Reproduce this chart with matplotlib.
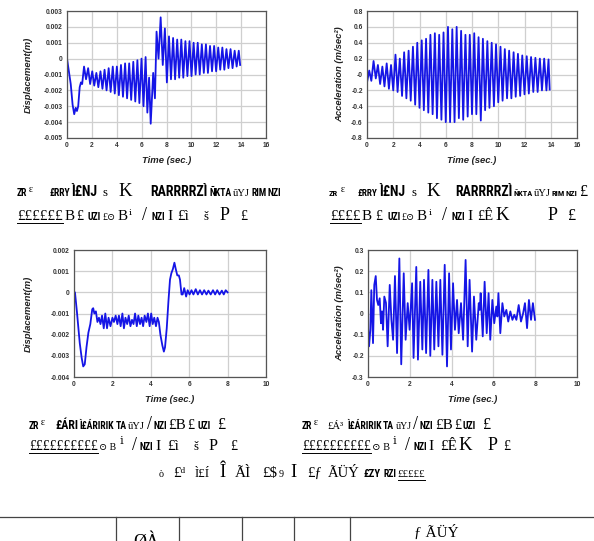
import matplotlib
matplotlib.use('Agg')
import matplotlib.pyplot as plt
import numpy as np
from matplotlib.lines import Line2D
from matplotlib.ticker import FuncFormatter
from matplotlib import font_manager

# ---------------- data ----------------
# (a) displacement, 14 s record
disp1_t = [0.0, 0.15, 0.3, 0.45, 0.58, 0.7, 0.8, 0.9, 1.02, 1.12, 1.22, 1.37, 1.53, 1.7, 1.86,
           2.03, 2.19, 2.36, 2.52, 2.69, 2.85, 3.02, 3.18, 3.35, 3.51, 3.68, 3.84, 4.01, 4.17,
           4.34, 4.5, 4.67, 4.83, 5.0, 5.16, 5.33, 5.49, 5.66, 5.82, 5.99, 6.15, 6.32, 6.46,
           6.6, 6.73, 6.93, 7.07, 7.2, 7.36, 7.53, 7.7, 7.87, 8.03, 8.2, 8.36, 8.53, 8.69,
           8.86, 9.02, 9.19, 9.35, 9.52, 9.68, 9.85, 10.01, 10.18, 10.34, 10.51, 10.67,
           10.84, 11.0, 11.17, 11.33, 11.5, 11.66, 11.83, 11.99, 12.16, 12.32, 12.49, 12.65,
           12.82, 12.98, 13.15, 13.31, 13.48, 13.64, 13.81, 13.92]
disp1_v = [0.0, -0.0008, -0.0016, -0.0029, -0.0035, -0.0031, -0.0033, -0.003, -0.0018, -0.0015,
           -0.0016, -0.0005, -0.0013, -0.0006, -0.0016, -0.0008, -0.0017, -0.0009, -0.0018,
           -0.0008, -0.0019, -0.0007, -0.002, -0.0006, -0.0021, -0.0005, -0.0022, -0.0005,
           -0.0023, -0.0004, -0.0024, -0.0003, -0.0025, -0.0003, -0.0026, -0.0002, -0.0027,
           -0.0001, -0.0028, 0.0, -0.003, 0.0001, -0.0034, -0.0012, -0.0041, -0.0009, -0.0025,
           0.0017, 0.0, 0.0026, -0.0004, 0.0019, -0.0015, 0.0014, -0.0013, 0.0013, -0.0013,
           0.0012, -0.0012, 0.0012, -0.0012, 0.0011, -0.0011, 0.0011, -0.0011, 0.001, -0.001,
           0.001, -0.001, 0.0009, -0.0009, 0.0009, -0.0009, 0.0008, -0.0008, 0.0008, -0.0008,
           0.0007, -0.0007, 0.0007, -0.0007, 0.0006, -0.0006, 0.0006, -0.0006, 0.0005, -0.0005,
           0.0005, -0.0004]

# (b) acceleration, 14 s record
acc1_t = [0.0, 0.17, 0.33, 0.5, 0.67, 0.83, 1.0, 1.17, 1.33, 1.5, 1.67, 1.83, 2.0, 2.17, 2.33,
          2.5, 2.67, 2.83, 3.0, 3.17, 3.33, 3.5, 3.67, 3.83, 4.0, 4.17, 4.33, 4.5, 4.67, 4.83,
          5.0, 5.17, 5.33, 5.5, 5.67, 5.83, 6.0, 6.17, 6.33, 6.5, 6.67, 6.83, 7.0, 7.17, 7.33,
          7.5, 7.67, 7.83, 8.0, 8.17, 8.33, 8.5, 8.67, 8.83, 9.0, 9.17, 9.33, 9.5, 9.67, 9.83,
          10.0, 10.17, 10.33, 10.5, 10.67, 10.83, 11.0, 11.17, 11.33, 11.5, 11.67, 11.83, 12.0,
          12.17, 12.33, 12.5, 12.67, 12.83, 13.0, 13.17, 13.33, 13.5, 13.67, 13.83, 13.92]
acc1_v = [-0.1, 0.05, -0.08, 0.17, -0.05, 0.12, -0.12, 0.1, -0.15, 0.14, -0.18, 0.12, -0.2, 0.25,
          -0.22, 0.2, -0.27, 0.28, -0.3, 0.3, -0.33, 0.35, -0.38, 0.4, -0.42, 0.43, -0.45, 0.45,
          -0.48, 0.5, -0.5, 0.52, -0.55, 0.5, -0.57, 0.53, -0.6, 0.6, -0.6, 0.57, -0.6, 0.6,
          -0.55, 0.55, -0.57, 0.5, -0.53, 0.5, -0.5, 0.52, -0.5, 0.47, -0.58, 0.45, -0.45, 0.42,
          -0.42, 0.4, -0.4, 0.38, -0.35, 0.35, -0.33, 0.32, -0.3, 0.3, -0.3, 0.28, -0.28, 0.26,
          -0.27, 0.24, -0.25, 0.23, -0.24, 0.22, -0.22, 0.21, -0.22, 0.2, -0.2, 0.2, -0.2, 0.19,
          -0.19]

# (c) displacement, 8 s record
disp2_t = [0.0, 0.05, 0.15, 0.3, 0.4, 0.48, 0.56, 0.65, 0.75, 0.85, 0.95, 1.0, 1.06, 1.14, 1.22,
           1.3, 1.38, 1.46, 1.55, 1.63, 1.72, 1.8, 1.9, 2.0, 2.08, 2.17, 2.26, 2.34, 2.43, 2.52,
           2.6, 2.68, 2.77, 2.85, 2.94, 3.02, 3.1, 3.18, 3.27, 3.35, 3.44, 3.52, 3.6, 3.68, 3.77,
           3.85, 3.94, 4.02, 4.1, 4.18, 4.27, 4.35, 4.42, 4.5, 4.6, 4.68, 4.74, 4.83, 4.92, 5.0,
           5.07, 5.15, 5.23, 5.3, 5.38, 5.46, 5.52, 5.6, 5.66, 5.74, 5.84, 5.92, 6.02, 6.12,
           6.22, 6.34, 6.45, 6.56, 6.67, 6.78, 6.9, 7.0, 7.12, 7.24, 7.35, 7.46, 7.58, 7.7, 7.8,
           7.9, 8.0]
disp2_v = [0.0, 0.0, -0.0009, -0.0024, -0.0031, -0.0035, -0.0034, -0.0026, -0.0019, -0.0015,
           -0.0008, -0.00075, -0.001, -0.0009, -0.0014, -0.0012, -0.0015, -0.0011, -0.0017,
           -0.001, -0.0017, -0.0012, -0.0016, -0.0012, -0.0014, -0.0011, -0.0015, -0.0011,
           -0.0016, -0.001, -0.0017, -0.0012, -0.0015, -0.0011, -0.0016, -0.0013, -0.0015,
           -0.001, -0.0016, -0.0011, -0.0015, -0.0012, -0.0016, -0.0011, -0.0014, -0.001,
           -0.0016, -0.001, -0.0015, -0.0012, -0.0016, -0.0012, -0.0014, -0.002, -0.0025,
           -0.0028, -0.0026, -0.0017, -0.0004, 0.0006, 0.0009, 0.0011, 0.0014, 0.0011, 0.0008,
           0.0008, 0.0006, -0.0001, -0.0001, 0.0002, -0.0002, 0.0001, -0.0001, 0.0001, -0.0001,
           0.00015, -0.0001, 0.0001, -0.0001, 0.0001, -0.0001, 0.00008, -0.0001, 0.0001,
           -0.0001, 0.0001, -0.0001, 0.00008, -0.0001, 0.0001, 0.0]

# (d) acceleration, 8 s record
acc2_t = [0.0, 0.05, 0.11, 0.16, 0.24, 0.3, 0.37, 0.43, 0.49, 0.56, 0.62, 0.67, 0.72, 0.78, 0.86,
          0.94, 1.04, 1.12, 1.2, 1.29, 1.39, 1.5, 1.59, 1.71, 1.8, 1.9, 1.99, 2.11, 2.18, 2.31,
          2.39, 2.5, 2.6, 2.68, 2.78, 2.89, 2.98, 3.08, 3.17, 3.27, 3.37, 3.46, 3.56, 3.67, 3.78,
          3.88, 3.97, 4.07, 4.16, 4.26, 4.34, 4.45, 4.55, 4.67, 4.77, 4.86, 4.98, 5.07, 5.18,
          5.3, 5.35, 5.39, 5.49, 5.58, 5.68, 5.77, 5.85, 5.95, 6.04, 6.14, 6.19, 6.24, 6.33,
          6.43, 6.52, 6.62, 6.71, 6.81, 6.91, 7.0, 7.1, 7.21, 7.32, 7.42, 7.51, 7.61, 7.7, 7.8,
          7.89, 7.99]
acc2_v = [-0.06, -0.155, -0.08, 0.11, -0.14, 0.135, 0.177, 0.064, 0.04, 0.072, -0.046, 0.01,
          -0.077, 0.08, 0.05, -0.155, 0.135, -0.03, -0.124, 0.177, -0.187, 0.26, -0.24, 0.19,
          -0.124, 0.049, -0.077, 0.143, -0.21, 0.22, -0.218, 0.15, -0.17, 0.159, -0.187, 0.206,
          -0.2, 0.159, -0.17, 0.15, -0.155, 0.159, -0.195, 0.23, -0.25, 0.19, -0.17, 0.143,
          -0.077, 0.064, -0.093, 0.049, -0.124, 0.253, -0.155, 0.159, -0.18, 0.08, -0.124,
          0.049, 0.017, 0.096, -0.108, 0.15, -0.093, 0.096, -0.124, 0.064, -0.046, 0.033,
          -0.014, 0.096, -0.093, 0.049, -0.014, 0.017, -0.038, 0.01, -0.03, -0.006, -0.03, 0.04,
          -0.038, 0.0, 0.049, -0.069, 0.064, -0.03, 0.049, -0.03]

# captions (as printed, token by token)
cap_a1 = ["ZR", "\u1d4b", "\u00a3RRY", "\u00cc\u00a3NJ", "s", "K", "RARRRRZ\u00cc", "\u00d1KTA",
          "\u00fbYJ", "RIM", "NZI"]
cap_a2 = ["\u00a3\u00a3\u00a3\u00a3\u00a3\u00a3", "B", "\u00a3", "UZI", "\u00a3\u2299", "B",
          "\u2071", "/", "NZI", "I", "\u00a3\u00ec", "\u0161", "P", "\u00a3"]
cap_b1 = ["ZR", "\u1d4b", "\u00a3RRY", "\u00cc\u00a3NJ", "s", "K", "RARRRRZ\u00cc", "\u00d1KTA",
          "\u00fbYJ", "RIM", "NZI", "\u00a3"]
cap_b2 = ["\u00a3\u00a3\u00a3\u00a3", "B", "\u00a3", "UZI", "\u00a3\u2299", "B", "\u2071", "/",
          "NZI", "I", "\u00a3\u00ca", "K", "P", "\u00a3"]
cap_c1 = ["ZR", "\u1d4b", "\u00a3\u00c1RI", "\u00cc\u00a3\u00c1RIRIK", "TA", "\u00fbYJ", "/",
          "NZI", "\u00a3B", "\u00a3", "UZI", "\u00a3"]
cap_c2 = ["\u00a3\u00a3\u00a3\u00a3\u00a3\u00a3\u00a3\u00a3\u00a3\u00a3", "\u2299 B", "\u2071",
          "/", "NZI", "I", "\u00a3\u00ec", "\u0161", "P", "\u00a3"]
cap_d1 = ["ZR", "\u1d4b", "\u00a3\u00c1\u00b3", "\u00cc\u00a3\u00c1RIRIK", "TA", "\u00fbYJ", "/",
          "NZI", "\u00a3B", "\u00a3", "UZI", "\u00a3"]
cap_d2 = ["\u00a3\u00a3\u00a3\u00a3\u00a3\u00a3\u00a3\u00a3\u00a3\u00a3", "\u2299 B", "\u2071",
          "/", "NZI", "I", "\u00a3\u00ca", "K", "P", "\u00a3"]
title_main = ["\u00f2", "\u00a3\u1d48", "\u00cc\u00a3\u00cd", "\u00ce", "\u00c3\u00cc",
              "\u00a3$", "9", "I", "\u00a3\u0192", "\u00c3\u00dc\u00dd", "\u00a3ZY", "RZI",
              "\u00a3\u00a3\u00a3\u00a3\u00a3"]
table_txt1 = "\u00d8\u00c0"
table_txt2 = "\u0192 \u00c3\u00dc\u00dd"

# ---------------- figure ----------------
W, H = 594, 541
fig = plt.figure(figsize=(W / 100, H / 100), dpi=100)
fig.patch.set_facecolor('white')


def have_font(name):
    try:
        font_manager.findfont(font_manager.FontProperties(family=name),
                              fallback_to_default=False)
        return True
    except Exception:
        return False


SANS = ['Liberation Sans', 'DejaVu Sans']
SERIF = ['Liberation Serif', 'DejaVu Serif', 'DejaVu Sans']
NARROW = [f for f in ['Liberation Sans Narrow', 'DejaVu Sans Condensed', 'Roboto Condensed']
          if have_font(f)] + ['Liberation Sans', 'DejaVu Sans']
LINE_C = '#1515e6'


def ax_px(l, t, r, b):
    return fig.add_axes([l / W, 1 - b / H, (r - l) / W, (b - t) / H])


fmt = FuncFormatter(lambda v, p: '%g' % round(v, 6))


def style(ax, xmax, ylim, ystep, ylabel, ylab_x):
    ax.set_xlim(0, xmax)
    ax.set_ylim(*ylim)
    ax.set_xticks(np.arange(0, xmax + 0.01, 2))
    ax.set_yticks(np.arange(ylim[0], ylim[1] + ystep / 2, ystep))
    ax.yaxis.set_major_formatter(fmt)
    ax.xaxis.set_major_formatter(fmt)
    ax.grid(True, color='#cfcfcf', lw=0.9)
    ax.set_axisbelow(True)
    for s in ax.spines.values():
        s.set_color('#555555')
        s.set_linewidth(0.9)
    ax.tick_params(length=0, pad=3, labelsize=4.8, colors='#333333')
    for lb in ax.get_xticklabels() + ax.get_yticklabels():
        lb.set_fontweight('bold')
        lb.set_family(SANS)
    ax.set_xlabel('Time (sec.)', fontsize=6.8, fontweight='bold', fontstyle='italic',
                  family=SANS, color='#222222')
    ax.set_ylabel(ylabel, fontsize=6.8, fontweight='bold', fontstyle='italic',
                  family=SANS, color='#222222')
    ax.xaxis.set_label_coords(0.5, -0.142)
    ax.yaxis.set_label_coords(ylab_x, 0.5)


axA = ax_px(67, 11, 266, 138)
axA.plot(disp1_t, disp1_v, color=LINE_C, lw=1.3)
style(axA, 16, (-0.005, 0.003), 0.001, 'Displacement(m)', -0.171)

axB = ax_px(367, 11, 577, 138)
axB.plot(acc1_t, acc1_v, color=LINE_C, lw=1.3)
style(axB, 16, (-0.8, 0.8), 0.2, 'Acceleration (m/sec\u00b2)', -0.11)

axC = ax_px(74, 250, 266, 377)
axC.plot(disp2_t, disp2_v, color=LINE_C, lw=1.3)
style(axC, 10, (-0.004, 0.002), 0.001, 'Displacement(m)', -0.214)

axD = ax_px(368, 250, 577, 377)
axD.plot(acc2_t, acc2_v, color=LINE_C, lw=1.3)
style(axD, 10, (-0.3, 0.3), 0.1, 'Acceleration (m/sec\u00b2)', -0.115)

# ---------------- captions ----------------
renderer = fig.canvas.get_renderer()


def width_of(s, fs, fam, weight):
    t = fig.text(0, 0, s, fontsize=fs, family=fam, fontweight=weight)
    w = t.get_window_extent(renderer).width
    t.remove()
    return w


def place_tokens(tokens, spans, base_y, underline=(), fmin_blocky=7.0, gap=1.5):
    prev_x1 = -1e9
    for i, (tok, (x0, x1)) in enumerate(zip(tokens, spans)):
        blocky = len(tok) >= 2 and all(c.isupper() for c in tok if c.isalpha()) \
            and sum(c.isascii() and c.isalpha() for c in tok) >= 2
        if blocky:
            fam, weight, fmax, fmin = NARROW, 'bold', 10.0, fmin_blocky
        else:
            fam, weight, fmax, fmin = SERIF, 'normal', (13.5 if len(tok) == 1 else 11.0), 7.0
        fs = 10 * (x1 - x0) / width_of(tok, 10, fam, weight)
        fs = max(fmin, min(fmax, fs))
        xs = max(x0, prev_x1 + gap)
        t = fig.text(xs / W, 1 - base_y / H, tok, fontsize=fs, family=fam,
                     fontweight=weight, ha='left', va='baseline', color='black')
        bb = t.get_window_extent(renderer)
        prev_x1 = bb.x1
        if i in underline:
            uy = 1 - (base_y + 2.5) / H
            fig.add_artist(Line2D([bb.x0 / W, bb.x1 / W], [uy, uy], color='black', lw=0.7,
                                  transform=fig.transFigure))


place_tokens(cap_a1, [(17, 25), (29, 33), (50, 67), (68, 97), (103, 108), (118, 133),
                      (150, 208), (209, 227), (228, 245), (247, 259), (262, 270)], 196)
place_tokens(cap_a2, [(17, 62), (62, 72), (75, 82), (88, 96), (100, 113), (117, 127),
                      (129, 132), (142, 147), (152, 160), (163, 168), (177, 190), (203, 208),
                      (220, 230), (240, 247)], 220, underline=(0,))
place_tokens(cap_b1, [(329, 337), (341, 345), (358, 378), (380, 408), (412, 417), (426, 441),
                      (455, 512), (513, 532), (533, 550), (551, 563), (565, 574), (576, 584)],
             196, fmin_blocky=6.0, gap=1.0)
place_tokens(cap_b2, [(330, 360), (362, 372), (375, 382), (387, 395), (400, 413), (417, 427),
                      (429, 432), (442, 447), (452, 460), (463, 468), (477, 493), (495, 511),
                      (547, 557), (567, 575)], 220, underline=(0,))
place_tokens(cap_c1, [(29, 38), (41, 45), (55, 78), (78, 113), (113, 120), (120, 137),
                      (138, 143), (147, 155), (160, 182), (185, 192), (197, 207), (217, 225)],
             429)
place_tokens(cap_c2, [(29, 98), (99, 115), (120, 124), (132, 137), (140, 148), (153, 158),
                      (167, 182), (193, 198), (208, 217), (230, 237)], 450, underline=(0,))
place_tokens(cap_d1, [(302, 310), (313, 317), (327, 343), (347, 380), (380, 387), (387, 403),
                      (405, 410), (413, 422), (425, 447), (450, 457), (462, 472), (482, 490)],
             429)
place_tokens(cap_d2, [(302, 370), (372, 390), (393, 397), (405, 410), (413, 422), (427, 432),
                      (440, 457), (458, 473), (487, 497), (503, 510)], 450, underline=(0,))
place_tokens(title_main, [(159, 164), (173, 188), (195, 210), (220, 227), (235, 253),
                          (262, 277), (278, 283), (290, 297), (307, 322), (328, 360),
                          (363, 380), (383, 393), (395, 422)], 477, underline=(12,))

# ---------------- table fragment ----------------
fig.add_artist(Line2D([0, 1], [1 - 517 / H, 1 - 517 / H], color='#444444', lw=0.9,
                      transform=fig.transFigure))
for xv in [116, 179, 242, 294, 350]:
    fig.add_artist(Line2D([xv / W, xv / W], [0, 1 - 517 / H], color='#444444', lw=0.9,
                          transform=fig.transFigure))
fig.text(133 / W, 1 - 534 / H, table_txt1, fontsize=13, family=SERIF, ha='left', va='top')
fig.text(414 / W, 1 - 532 / H, table_txt2, fontsize=11, family=SERIF, ha='left', va='center')

fig.savefig('out.png', dpi=100)
